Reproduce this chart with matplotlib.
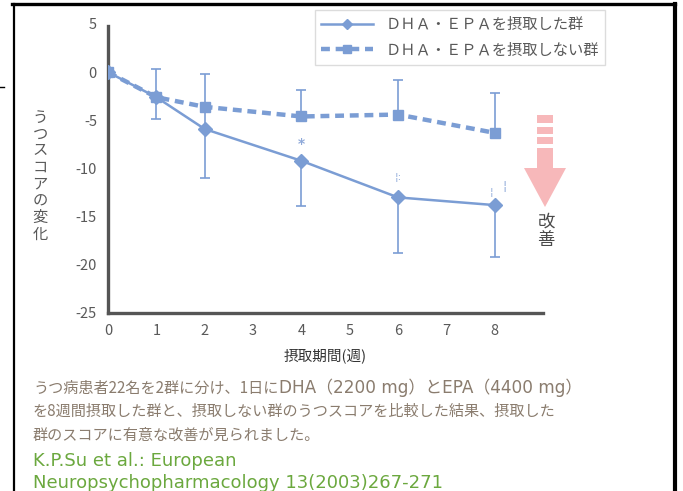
import numpy as np
import matplotlib.pyplot as plt
from matplotlib.lines import Line2D
from matplotlib.patches import Rectangle, Polygon

plt.rcParams['font.family'] = ['Noto Sans CJK JP', 'DejaVu Sans']
plt.rcParams['axes.unicode_minus'] = False

# data
weeks = [0, 1, 2, 4, 6, 8]
dha_epa = [0, -2.6, -5.9, -9.2, -13.0, -13.8]
control = [0, -2.6, -3.6, -4.6, -4.4, -6.3]
control_err_up = [0, 2.9, 3.4, 2.8, 3.6, 4.1]
dha_err_low = [0, 2.3, 5.1, 4.7, 5.8, 5.4]
dha_err_up = [0, 0, 2.3, 0, 0, 0]
yticks = [5, 0, -5, -10, -15, -20, -25]
xticks = [0, 1, 2, 3, 4, 5, 6, 7, 8]
label_dha = 'ＤＨＡ・ＥＰＡを摂取した群'
label_ctrl = 'ＤＨＡ・ＥＰＡを摂取しない群'
note_head = 'うつ病患者22名を2群に分け、1日に'
note_dose = 'DHA（2200 mg）とEPA（4400 mg）'
note_lines = ['を8週間摂取した群と、摂取しない群のうつスコアを比較した結果、摂取した',
              '群のスコアに有意な改善が見られました。']
ref_lines = ['K.P.Su et al.: European',
             'Neuropsychopharmacology 13(2003)267-271']

W, H = 683, 491
fig = plt.figure(figsize=(W / 100, H / 100), dpi=100)
fig.patch.set_facecolor('white')

def fx(px):
    return px / W

def fy(py):
    return 1 - py / H

blue = '#7B9DD4'
grey = '#595959'

ax = fig.add_axes([fx(108), fy(313), fx(543) - fx(108), fy(24) - fy(313)])
ax.set_xlim(0, 9)
ax.set_ylim(-25, 5)

# error bars
ax.errorbar(weeks, control, yerr=[np.zeros(len(weeks)), control_err_up], fmt='none',
            ecolor=blue, elinewidth=1.2, capsize=3.8, capthick=1.2, zorder=2)
ax.errorbar(weeks, dha_epa, yerr=[dha_err_low, dha_err_up], fmt='none',
            ecolor=blue, elinewidth=1.2, capsize=3.8, capthick=1.2, zorder=2)

l1, = ax.plot(weeks, dha_epa, color=blue, lw=1.8, marker='D', ms=7,
              mec=blue, mfc=blue, zorder=4, label=label_dha)
l2, = ax.plot(weeks, control, color=blue, lw=3.2, ls=(0, (2.0, 1.3)),
              dash_capstyle='butt', marker='s', ms=7, mec=blue, mfc=blue,
              zorder=3, label=label_ctrl)

# significance marks
mark_col = '#8FA9D9'
ax.text(4, -7.5, '*', color=mark_col, fontsize=10, ha='center', va='center',
        family='DejaVu Sans', fontweight='bold')
ax.text(6.0, -10.9, '¦:', color=mark_col, fontsize=8, ha='center', va='center',
        family='DejaVu Sans')
ax.text(7.93, -12.4, '¦', color=mark_col, fontsize=8, ha='center', va='center',
        family='DejaVu Sans')
ax.text(8.2, -11.9, '¦', color=mark_col, fontsize=9, ha='center', va='center',
        family='DejaVu Sans')

for s in ['top', 'right']:
    ax.spines[s].set_visible(False)
for s in ['left', 'bottom']:
    ax.spines[s].set_color('#555555')
    ax.spines[s].set_linewidth(2.4)
ax.spines['left'].set_bounds(-25, 4.8)

ax.set_xticks(xticks)
ax.set_yticks(yticks)
ax.tick_params(length=0, labelsize=10.5, colors=grey, pad=8)
ax.set_xlabel('摂取期間(週)', fontsize=10.5, color='#333333', labelpad=8)
ax.patch.set_alpha(0)

# vertical y label
fig.text(fx(40), fy(176), '\n'.join('うつスコアの変化'), fontsize=11,
         color=grey, ha='center', va='center', linespacing=0.98)

leg = fig.legend(handles=[l1, l2], loc='upper left',
                 bbox_to_anchor=(fx(315), fy(10)), fontsize=11,
                 frameon=True, fancybox=False, edgecolor='#D4D4D4',
                 handlelength=3.4, borderpad=0.4, labelspacing=0.55,
                 handletextpad=0.8, borderaxespad=0, markerscale=0.75)
leg.get_frame().set_linewidth(1.0)
for t in leg.get_texts():
    t.set_color(grey)

# improvement arrow
pink = '#F7B8BA'
for y0, y1 in [(115, 123), (127, 134), (137, 144)]:
    fig.patches.append(Rectangle((fx(537), fy(y1)), fx(553) - fx(537), fy(y0) - fy(y1),
                                 transform=fig.transFigure, color=pink, lw=0))
fig.patches.append(Rectangle((fx(537), fy(169)), fx(553) - fx(537), fy(148) - fy(169),
                             transform=fig.transFigure, color=pink, lw=0))
fig.patches.append(Polygon([(fx(524), fy(168)), (fx(566), fy(168)), (fx(545), fy(207))],
                           closed=True, transform=fig.transFigure, color=pink, lw=0))
fig.text(fx(546), fy(231), '改\n善', fontsize=12.5, color='#4A4A4A', ha='center',
         va='center', linespacing=1.0)

# notes
note_col = '#8A7C6E'
t_head = fig.text(fx(33), fy(388), note_head, fontsize=10.9, color=note_col,
                  ha='left', va='center')
r = fig.canvas.get_renderer()
x_end = t_head.get_window_extent(renderer=r).x1
fig.text(x_end / W + fx(1), fy(388), note_dose, fontsize=12.2, color=note_col,
         ha='left', va='center', family=['DejaVu Sans', 'Noto Sans CJK JP'])
for i, s in enumerate(note_lines):
    fig.text(fx(33), fy(388 + 23.5 * (i + 1)), s, fontsize=10.9, color=note_col,
             ha='left', va='center')
for i, s in enumerate(ref_lines):
    fig.text(fx(33), fy(461 + 21.5 * i), s, fontsize=13, color='#6BA83E',
             ha='left', va='center', family=['DejaVu Sans', 'Noto Sans CJK JP'])

# black frame
fig.lines.append(Line2D([fx(12), fx(675)], [fy(4), fy(4)], transform=fig.transFigure,
                        color='black', lw=2.4))
fig.lines.append(Line2D([fx(13.5), fx(13.5)], [fy(4), 0], transform=fig.transFigure,
                        color='black', lw=1.6))
fig.lines.append(Line2D([fx(675), fx(675)], [fy(4), 0], transform=fig.transFigure,
                        color='black', lw=3.0))
fig.lines.append(Line2D([0, fx(4)], [fy(87), fy(87)], transform=fig.transFigure,
                        color='black', lw=1.0))

fig.savefig('out.png', dpi=100)
